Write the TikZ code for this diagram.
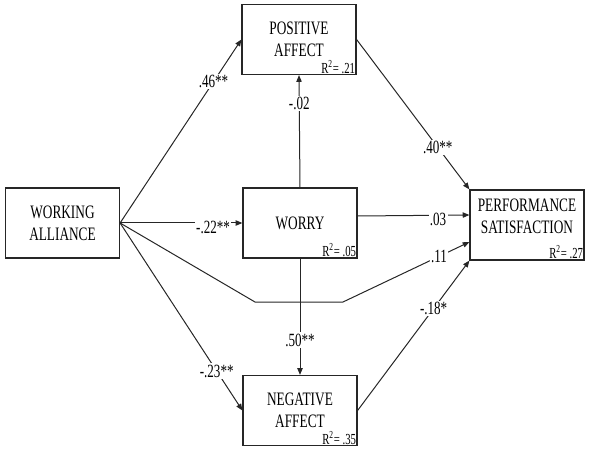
\documentclass[tikz,border=0pt]{standalone}
\usepackage{fontspec}
\newfontfamily\narrowtimes[FakeStretch=0.7]{Liberation Serif}
\usetikzlibrary{arrows.meta}

\tikzset{
  varbox/.style={draw=black!85, line width=0.9pt, minimum width=85.5pt, minimum height=52.5pt,
    align=center, inner sep=0pt, font=\narrowtimes\fontsize{14.25pt}{16.5pt}\selectfont},
  rsq/.style={anchor=south east, inner sep=1pt, font=\narrowtimes\fontsize{11.5pt}{13pt}\selectfont},
  coef/.style={fill=white, inner sep=1pt, font=\narrowtimes\fontsize{14pt}{16pt}\selectfont},
  path/.style={draw=black!85, line width=0.75pt},
  arr/.style={path, -{Triangle[length=5pt,width=4pt]}}
}

\begin{document}
\begin{tikzpicture}[x=0.75pt,y=0.75pt,yscale=-1,xscale=1]
\useasboundingbox (0,0) rectangle (590,460);

% Boxes
\node [varbox] (alliance) at (62.5,223) {WORKING\\ALLIANCE};
\node [varbox] (posaff) at (299,39.5) {POSITIVE\\AFFECT};
\node [varbox] (worry) at (300,223) {WORRY};
\node [varbox] (negaff) at (300,410.5) {NEGATIVE\\AFFECT};
\node [varbox] (perform) at (527,225) {PERFORMANCE\\SATISFACTION\\[-3pt]};

% R squared
\node [rsq] (rPos) at (posaff.south east) {R\textsuperscript{2}= .21};
\node [rsq] (rWorry) at (worry.south east) {R\textsuperscript{2}= .05};
\node [rsq] (rNeg) at (negaff.south east) {R\textsuperscript{2}= .35};
\node [rsq] (rPerf) at (perform.south east) {R\textsuperscript{2}= .27};

% bend of the direct path
\coordinate (bendL) at (255,302);
\coordinate (bendR) at (343,302);

% Paths
\draw [arr] (alliance.east) -- (posaff.west) node [coef, pos=0.77] {.46**};
\draw [arr] (alliance.east) -- (worry.west) node [coef, pos=0.76, yshift=-3pt] {-.22**};
\draw [arr] (alliance.east) -- (negaff.west) node [coef, pos=0.79] {-.23**};
\draw [arr] (alliance.east) -- (bendL) -- (bendR) -- ([yshift=12.75pt]perform.west) node [coef, pos=0.76] {.11};
\draw [arr] (worry.north) -- (posaff.south) node [coef, pos=0.75] {-.02};
\draw [arr] (worry.south) -- (negaff.north) node [coef, pos=0.70] {.50**};
\draw [arr] ([yshift=-5.25pt]worry.east) -- ([yshift=-7.5pt]perform.west) node [coef, pos=0.72, yshift=-3pt] {.03};
\draw [arr] (posaff.east) -- (perform.north west) node [coef, pos=0.72] {.40**};
\draw [arr] (negaff.east) -- (perform.south west) node [coef, pos=0.68] {-.18*};

\end{tikzpicture}
\end{document}
